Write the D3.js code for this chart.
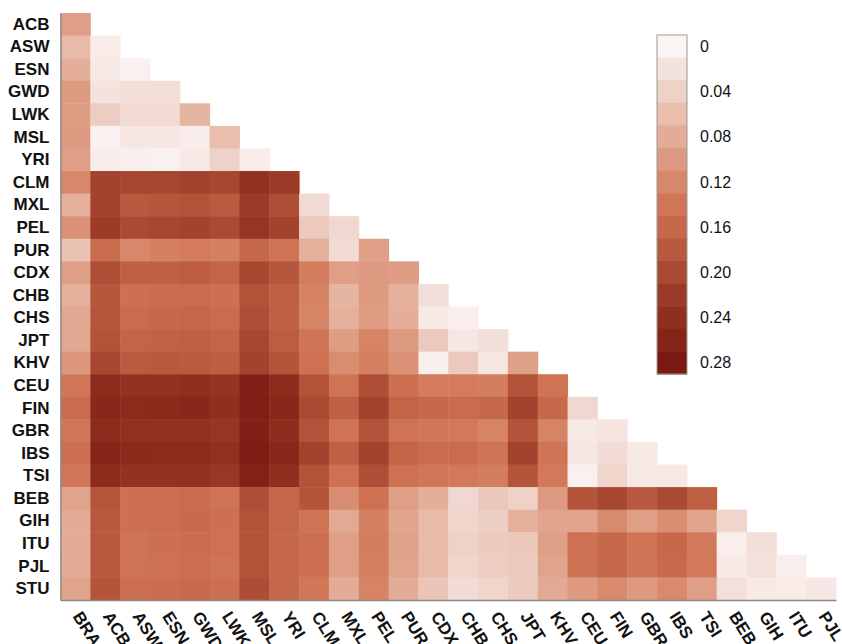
<!DOCTYPE html>
<html>
<head>
<meta charset="utf-8">
<script src="https://cdn.jsdelivr.net/npm/d3@7"></script>
<style>
  body { margin: 0; background: #fff; }
  .ylab text { font: bold 17px "Liberation Sans", Arial, sans-serif; fill: #111; }
  .xlab text { font: bold 17px "Liberation Sans", Arial, sans-serif; fill: #111; }
  .legend text { font: 16px "Liberation Sans", Arial, sans-serif; fill: #111; }
</style>
</head>
<body>
<svg id="chart" width="842" height="644"></svg>
<script>
// populations
const rowNames = ['ACB', 'ASW', 'ESN', 'GWD', 'LWK', 'MSL', 'YRI', 'CLM', 'MXL', 'PEL', 'PUR', 'CDX', 'CHB',
  'CHS', 'JPT', 'KHV', 'CEU', 'FIN', 'GBR', 'IBS', 'TSI', 'BEB', 'GIH', 'ITU', 'PJL', 'STU'];
const colNames = ['BRA', 'ACB', 'ASW', 'ESN', 'GWD', 'LWK', 'MSL', 'YRI', 'CLM', 'MXL', 'PEL', 'PUR', 'CDX',
  'CHB', 'CHS', 'JPT', 'KHV', 'CEU', 'FIN', 'GBR', 'IBS', 'TSI', 'BEB', 'GIH', 'ITU', 'PJL'];

// pairwise values, one list per row (lower triangle, columns in colNames order)
const fstACB = [0.095];
const fstASW = [0.065, 0.010];
const fstESN = [0.078, 0.012, 0.004];
const fstGWD = [0.100, 0.020, 0.025, 0.025];
const fstLWK = [0.097, 0.045, 0.030, 0.030, 0.070];
const fstMSL = [0.100, 0.003, 0.015, 0.015, 0.008, 0.060];
const fstYRI = [0.095, 0.008, 0.005, 0.002, 0.012, 0.040, 0.010];
const fstCLM = [0.120, 0.210, 0.205, 0.205, 0.210, 0.205, 0.235, 0.220];
const fstMXL = [0.075, 0.210, 0.180, 0.185, 0.190, 0.178, 0.220, 0.195, 0.028];
const fstPEL = [0.110, 0.220, 0.200, 0.205, 0.210, 0.200, 0.230, 0.210, 0.048, 0.032];
const fstPUR = [0.055, 0.155, 0.120, 0.130, 0.135, 0.130, 0.160, 0.145, 0.076, 0.028, 0.095];
const fstCDX = [0.095, 0.195, 0.170, 0.170, 0.175, 0.165, 0.205, 0.183, 0.133, 0.095, 0.100, 0.097];
const fstCHB = [0.075, 0.183, 0.150, 0.153, 0.155, 0.150, 0.190, 0.170, 0.126, 0.070, 0.100, 0.075, 0.024];
const fstCHS = [0.085, 0.185, 0.155, 0.160, 0.163, 0.155, 0.195, 0.170, 0.124, 0.075, 0.097, 0.078, 0.012, 0.007];
const fstJPT = [0.085, 0.190, 0.165, 0.168, 0.170, 0.165, 0.205, 0.175, 0.143, 0.096, 0.125, 0.100, 0.048, 0.014,
  0.024];
const fstKHV = [0.105, 0.205, 0.178, 0.180, 0.178, 0.173, 0.210, 0.188, 0.148, 0.115, 0.130, 0.110, 0.005, 0.048,
  0.016, 0.093];
const fstCEU = [0.140, 0.245, 0.236, 0.236, 0.240, 0.232, 0.268, 0.245, 0.190, 0.145, 0.195, 0.150, 0.133, 0.135,
  0.132, 0.190, 0.145];
const fstFIN = [0.155, 0.255, 0.248, 0.250, 0.252, 0.240, 0.270, 0.255, 0.200, 0.170, 0.210, 0.165, 0.160, 0.155,
  0.160, 0.210, 0.160, 0.033];
const fstGBR = [0.140, 0.248, 0.237, 0.237, 0.237, 0.230, 0.268, 0.243, 0.190, 0.145, 0.190, 0.145, 0.140, 0.138,
  0.125, 0.190, 0.125, 0.012, 0.018];
const fstIBS = [0.150, 0.258, 0.249, 0.247, 0.247, 0.238, 0.275, 0.254, 0.210, 0.170, 0.210, 0.165, 0.155, 0.155,
  0.145, 0.210, 0.143, 0.014, 0.028, 0.012];
const fstTSI = [0.140, 0.245, 0.235, 0.235, 0.236, 0.228, 0.266, 0.240, 0.190, 0.148, 0.195, 0.148, 0.140, 0.138,
  0.132, 0.187, 0.138, 0.004, 0.035, 0.012, 0.013];
const fstBEB = [0.090, 0.185, 0.150, 0.150, 0.155, 0.145, 0.195, 0.163, 0.187, 0.115, 0.148, 0.095, 0.077, 0.033,
  0.050, 0.040, 0.100, 0.187, 0.205, 0.180, 0.200, 0.172];
const fstGIH = [0.080, 0.180, 0.150, 0.152, 0.156, 0.150, 0.190, 0.163, 0.145, 0.083, 0.130, 0.088, 0.065, 0.035,
  0.043, 0.075, 0.088, 0.090, 0.118, 0.095, 0.113, 0.088, 0.035];
const fstITU = [0.080, 0.180, 0.146, 0.150, 0.153, 0.148, 0.188, 0.160, 0.150, 0.095, 0.132, 0.092, 0.065, 0.040,
  0.047, 0.050, 0.095, 0.148, 0.160, 0.143, 0.160, 0.138, 0.007, 0.023];
const fstPJL = [0.080, 0.180, 0.145, 0.148, 0.151, 0.145, 0.190, 0.160, 0.150, 0.095, 0.130, 0.090, 0.065, 0.035,
  0.045, 0.047, 0.090, 0.147, 0.160, 0.143, 0.158, 0.138, 0.012, 0.022, 0.007];
const fstSTU = [0.090, 0.186, 0.151, 0.153, 0.156, 0.151, 0.196, 0.161, 0.140, 0.080, 0.125, 0.080, 0.052, 0.028,
  0.035, 0.047, 0.082, 0.100, 0.118, 0.100, 0.118, 0.094, 0.022, 0.012, 0.010, 0.014];

const fstRows = [fstACB, fstASW, fstESN, fstGWD, fstLWK, fstMSL, fstYRI, fstCLM, fstMXL, fstPEL, fstPUR, fstCDX,
  fstCHB, fstCHS, fstJPT, fstKHV, fstCEU, fstFIN, fstGBR, fstIBS, fstTSI, fstBEB, fstGIH, fstITU, fstPJL, fstSTU];

// legend steps and labelled ticks
const legendSteps = d3.range(0, 0.2801, 0.02);
const legendTicks = [0, 0.04, 0.08, 0.12, 0.16, 0.20, 0.24, 0.28];

const stepColors = ['#fbf4f3', '#f4e2dd', '#eed1c7', '#e9beae', '#e3ac96', '#dd9a80', '#d7886a', '#d17757',
  '#c6684a', '#b8593f', '#aa4a33', '#9c3c28', '#8f2f1e', '#852418', '#7b1a12'];

const svg = d3.select('#chart');
const margin = { top: 13, left: 60.5, right: 6, bottom: 44 };
const width = 842 - margin.left - margin.right;
const height = 644 - margin.top - margin.bottom;

const x = d3.scaleBand().domain(colNames).range([margin.left, margin.left + width]);
const y = d3.scaleBand().domain(rowNames).range([margin.top, margin.top + height]);
const color = d3.scaleLinear().domain(legendSteps).range(stepColors).clamp(true);

const cells = [];
fstRows.forEach((vals, i) => {
    vals.forEach((v, j) => cells.push({ row: rowNames[i], col: colNames[j], value: v }));
});

svg.append('g').selectAll('rect').data(cells).join('rect')
    .attr('x', d => x(d.col))
    .attr('y', d => y(d.row))
    .attr('width', x.bandwidth() + 0.5)
    .attr('height', y.bandwidth() + 0.5)
    .attr('fill', d => color(d.value));

// axes
const yAxis = svg.append('g').attr('class', 'ylab')
    .attr('transform', 'translate(' + margin.left + ',0)')
    .call(d3.axisLeft(y).tickSize(0).tickPadding(11));
yAxis.select('.domain').attr('stroke', '#888').attr('stroke-width', 1.5);

const xAxis = svg.append('g').attr('class', 'xlab')
    .attr('transform', 'translate(0,' + (margin.top + height) + ')')
    .call(d3.axisBottom(x).tickSize(0));
xAxis.select('.domain').attr('stroke', '#888').attr('stroke-width', 1.5);
xAxis.selectAll('text')
    .attr('x', 0).attr('y', 0).attr('dy', '0.35em')
    .style('text-anchor', 'start')
    .attr('transform', 'translate(2,13) rotate(58)');

// legend
const lg = svg.append('g').attr('class', 'legend');
const ly = d3.scaleBand().domain(legendSteps.map((d, i) => i)).range([35, 374]);
lg.selectAll('rect').data(legendSteps).join('rect')
    .attr('x', 657).attr('y', (d, i) => ly(i))
    .attr('width', 30).attr('height', ly.bandwidth() + 0.5)
    .attr('fill', d => color(d));
lg.append('rect').attr('x', 657).attr('y', 35).attr('width', 30).attr('height', 339)
    .attr('fill', 'none').attr('stroke', '#999');
lg.selectAll('text').data(legendTicks).join('text')
    .attr('x', 700)
    .attr('y', d => ly(Math.round(d / 0.02)) + ly.bandwidth() / 2)
    .attr('dy', '0.35em')
    .text(d => d === 0 ? '0' : d3.format('.2f')(d));
</script>
</body>
</html>
